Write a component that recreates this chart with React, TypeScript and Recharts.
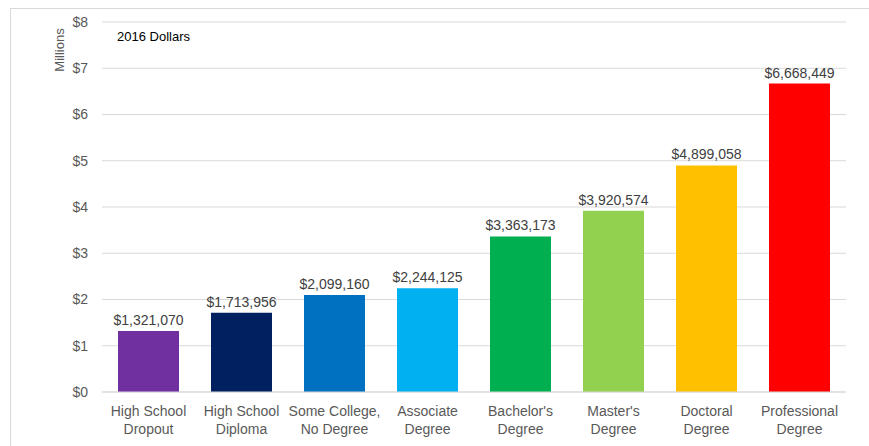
import { BarChart, Bar, Cell, CartesianGrid, XAxis, YAxis, LabelList } from 'recharts';

const degrees = [
  'High School\nDropout',
  'High School\nDiploma',
  'Some College,\nNo Degree',
  'Associate\nDegree',
  "Bachelor's\nDegree",
  "Master's\nDegree",
  'Doctoral\nDegree',
  'Professional\nDegree',
];
const earnings = [1321070, 1713956, 2099160, 2244125, 3363173, 3920574, 4899058, 6668449];
const barColors = ['#7030A0', '#002060', '#0070C0', '#00B0F0', '#00B050', '#92D050', '#FFC000', '#FF0000'];
const yTicks = [0, 1000000, 2000000, 3000000, 4000000, 5000000, 6000000, 7000000, 8000000];

const data = degrees.map((d, i) => ({ name: d, value: earnings[i] }));

const FONT = '"Liberation Sans", Arial, sans-serif';

const CategoryTick = (props: any) => {
  const { x, y, payload } = props;
  const lines = String(payload.value).split('\n');
  return (
    <text x={x} y={y} textAnchor="middle" fill="#595959" fontSize={14} fontFamily={FONT}>
      {lines.map((l, i) => (
        <tspan key={i} x={x} dy={i === 0 ? 16 : 18}>
          {l}
        </tspan>
      ))}
    </text>
  );
};

export default function App() {
  return (
    <div style={{ position: 'absolute', left: 0, top: 0, width: 869, height: 446, overflow: 'hidden', background: '#fff' }}>
      <div
        style={{
          position: 'absolute',
          left: 10,
          top: 8,
          width: 900,
          height: 500,
          border: '1px solid #d9d9d9',
        }}
      />
      <div style={{ position: 'absolute', left: 0, top: 0 }}>
        <BarChart width={869} height={446} data={data} margin={{ top: 22, right: 23, bottom: 14, left: 40 }}>
          <CartesianGrid vertical={false} stroke="#d9d9d9" />
          <XAxis
            dataKey="name"
            axisLine={{ stroke: '#d9d9d9' }}
            tickLine={false}
            height={40}
            interval={0}
            tick={<CategoryTick />}
          />
          <YAxis
            domain={[0, 8000000]}
            ticks={yTicks}
            width={62}
            axisLine={false}
            tickLine={false}
            tickMargin={8}
            tickFormatter={(v: number) => `$${v / 1000000}`}
            tick={{ fill: '#595959', fontSize: 14, fontFamily: FONT }}
            label={{
              content: () => (
                <text
                  x={64}
                  y={50}
                  transform="rotate(-90 64 50)"
                  textAnchor="middle"
                  fill="#595959"
                  fontSize={13}
                  fontFamily={FONT}
                >
                  Millions
                </text>
              ),
            }}
          />
          <Bar dataKey="value" barSize={61} isAnimationActive={false}>
            {data.map((_, i) => (
              <Cell key={i} fill={barColors[i]} />
            ))}
            <LabelList
              dataKey="value"
              position="top"
              offset={6}
              fill="#404040"
              fontSize={14}
              fontFamily={FONT}
              formatter={(v: any) => `$${Number(v).toLocaleString('en-US')}`}
            />
          </Bar>
        </BarChart>
      </div>
      <div
        style={{
          position: 'absolute',
          left: 117,
          top: 29,
          fontFamily: FONT,
          fontSize: 13,
          color: '#000',
        }}
      >
        2016 Dollars
      </div>
    </div>
  );
}
